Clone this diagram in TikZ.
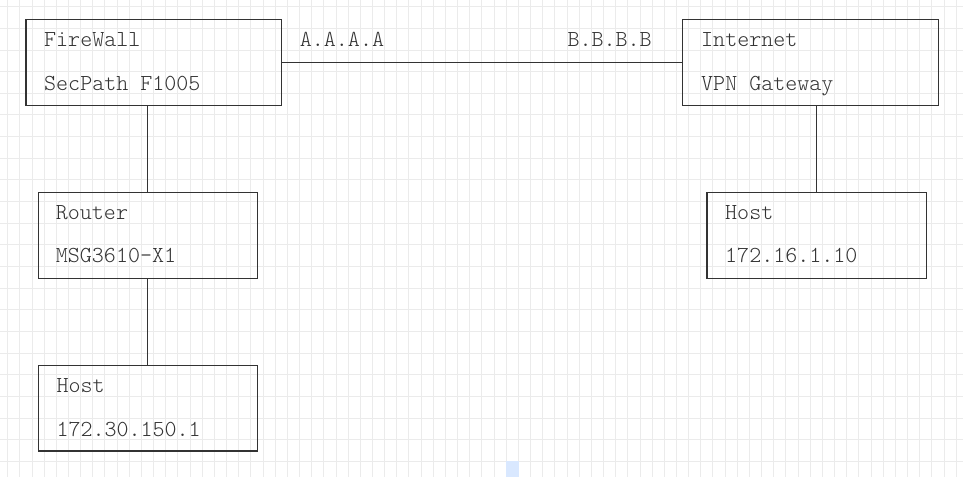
\documentclass[tikz,border=0pt]{standalone}
\usepackage{fontspec}
\setmonofont{lmmonolt10-regular}[Extension=.otf]
\begin{document}
\begin{tikzpicture}[x=1pt,y=-1pt,
  gridline/.style={draw=black!8,line width=1pt},
  devbox/.style={draw=black!80,line width=1.2pt,fill=none},
  lbl/.style={anchor=base west,inner sep=0pt,font=\ttfamily\fontsize{22.9}{26}\selectfont,text=black!80},
  link/.style={draw=black!80,line width=1.2pt}]
\useasboundingbox (0,0) rectangle (963,477);
\fill[white] (0,0) rectangle (963,477);
% grid
\foreach \i in {0,...,78} {\draw[gridline] ({7.7+\i*12.16},0) -- ({7.7+\i*12.16},477);}
\foreach \j in {0,...,21} {\draw[gridline] (0,{6.7+\j*21.65}) -- (963,{6.7+\j*21.65});}
\fill[blue!60!cyan!15] (506,461) rectangle (519,477);
% boxes
\draw[devbox] (26,19.3) rectangle (281.7,105.3);
\draw[devbox] (682.3,19.3) rectangle (938.3,105.3);
\draw[devbox] (38.3,192.7) rectangle (257.3,278.3);
\draw[devbox] (38.3,365.7) rectangle (257.3,451);
\draw[devbox] (707,192.7) rectangle (926.7,278.3);
% anchors
\coordinate (fwR) at (281.7,62.5);
\coordinate (inL) at (682.3,62.5);
\coordinate (fwB) at (147.7,105.3);
\coordinate (rtT) at (147.7,192.7);
\coordinate (rtB) at (147.7,278.3);
\coordinate (h1T) at (147.7,365.7);
\coordinate (inB) at (816.5,105.3);
\coordinate (h2T) at (816.5,192.7);
% links
\draw[link] (fwR) -- (inL);
\draw[link] (fwB) -- (rtT);
\draw[link] (rtB) -- (h1T);
\draw[link] (inB) -- (h2T);
% texts
\node[lbl] (fw1) at (44,46) {FireWall};
\node[lbl] (fw2) at (44,90) {SecPath F1005};
\node[lbl] (in1) at (701,46) {Internet};
\node[lbl] (in2) at (701,90) {VPN Gateway};
\node[lbl] (rt1) at (55.7,219.3) {Router};
\node[lbl] (rt2) at (55.7,262.7) {MSG3610-X1};
\node[lbl] (h11) at (56.3,392.3) {Host};
\node[lbl] (h12) at (56.3,436) {172.30.150.1};
\node[lbl] (h21) at (725,219.3) {Host};
\node[lbl] (h22) at (725,262.7) {172.16.1.10};
\node[lbl] (ipa) at (299.7,46) {A.A.A.A};
\node[lbl] (ipb) at (567.3,46) {B.B.B.B};
\end{tikzpicture}
\end{document}
